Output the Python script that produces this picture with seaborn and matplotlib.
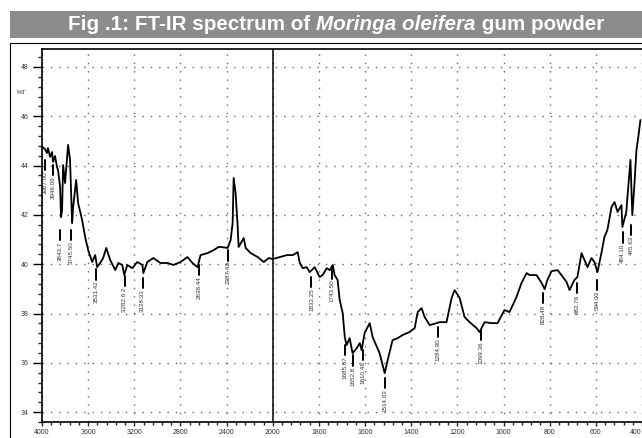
import numpy as np
import pandas as pd
import seaborn as sns
import matplotlib
matplotlib.use("Agg")
from matplotlib import pyplot as plt
from matplotlib import font_manager
from matplotlib.patches import Rectangle

# spectrum (wavenumber in 1/cm, %T)
wavenumber = [4000, 3974, 3957, 3948, 3930, 3913, 3904, 3887, 3870, 3861, 3843, 3835, 3826, 3817,
              3800, 3774, 3757, 3739, 3730, 3704, 3687, 3652, 3626, 3600, 3565, 3539, 3522, 3496,
              3470, 3443, 3409, 3365, 3339, 3304, 3287, 3261, 3217, 3174, 3130, 3122, 3087, 3035,
              2974, 2913, 2861, 2800, 2739, 2696, 2652, 2626, 2565, 2513, 2470, 2452, 2391, 2365,
              2348, 2339, 2322, 2304, 2296, 2261, 2252, 2235, 2191, 2130, 2078, 2035, 2000,
              1970, 1939, 1913, 1892, 1883, 1870, 1853, 1840, 1818, 1797, 1784, 1766, 1753, 1740,
              1732, 1719, 1710, 1697, 1688, 1680, 1667, 1654, 1636, 1623, 1615, 1602, 1580, 1567,
              1537, 1515, 1502, 1481, 1459, 1437, 1407, 1385, 1372, 1355, 1342, 1320, 1290, 1277,
              1247, 1225, 1212, 1190, 1169, 1147, 1117, 1104, 1082, 1052, 1026, 996, 974, 944,
              922, 900, 887, 857, 835, 822, 810, 792, 766, 749, 727, 714, 693, 680, 662, 649,
              636, 619, 606, 593, 576, 563, 550, 532, 519, 506, 489, 485, 468, 463, 450, 442,
              433, 424, 416, 407]
transmittance = [44.76, 44.67, 44.51, 44.71, 44.35, 44.55, 44.15, 44.39, 43.94, 43.82, 43.13, 41.91,
                 42.20, 44.02, 43.29, 44.84, 44.23, 41.67, 42.32, 43.42, 42.48, 41.79, 41.10, 40.57,
                 40.09, 40.37, 39.88, 40.05, 40.25, 40.66, 40.17, 39.76, 40.05, 39.97, 39.56, 39.97,
                 39.84, 40.09, 39.97, 39.64, 40.09, 40.25, 40.05, 40.05, 39.97, 40.09, 40.29, 40.05,
                 39.88, 40.37, 40.45, 40.57, 40.70, 40.70, 40.66, 40.98, 41.67, 43.50, 42.89, 41.51,
                 40.70, 40.98, 41.06, 40.66, 40.45, 40.29, 40.09, 40.25, 40.21,
                 40.29, 40.37, 40.37, 40.49, 40.05, 39.84, 39.88, 39.68, 39.88, 39.48, 39.56, 39.84,
                 39.76, 39.97, 39.56, 39.36, 38.55, 38.02, 37.04, 36.72, 37.00, 36.39, 36.60, 36.80,
                 36.52, 37.21, 37.61, 37.04, 36.39, 35.58, 36.11, 36.92, 37.00, 37.13, 37.25, 37.41,
                 38.06, 38.22, 37.86, 37.53, 37.61, 37.65, 37.65, 38.63, 38.95, 38.63, 37.86, 37.65,
                 37.41, 37.25, 37.65, 37.61, 37.61, 38.14, 38.06, 38.67, 39.24, 39.64, 39.56, 39.56,
                 39.24, 38.99, 39.36, 39.72, 39.76, 39.56, 39.28, 38.95, 39.36, 39.48, 40.45, 40.17,
                 39.88, 40.25, 40.09, 39.68, 40.45, 41.10, 41.39, 42.32, 42.52, 42.12, 42.40, 41.51,
                 42.12, 42.73, 44.23, 41.99, 43.21, 44.63, 45.16, 45.85]

# peak annotations: where the stub sits, printed label, top of the stub (%T)
peak_pos = [3974, 3904, 3843.7, 3745.5, 3531.42, 3282.62, 3128.33, 2638.44, 2387.42, 1832.25,
            1743.5, 1685.67, 1652.8, 1610.46, 1514.03, 1284.9, 1099.36, 828.48, 682.76, 594.03,
            484.1, 445.63]
peak_text = ["3987.00", "3946.09", "3843.7", "3745.50", "3531.42", "3282.6 2", "3128.33",
             "2638.44", "2387.42", "1832.25", "1743.50", "1685.67", "1652.8", "1610.46",
             "1514.03", "1284.90", "1099.36", "828.48", "682.76", "594.03", "484.10", "445.63"]
peak_top = [44.23, 44.02, 41.39, 41.39, 39.80, 39.52, 39.44, 39.97, 40.57, 39.48, 39.84, 36.72,
            36.31, 36.52, 35.38, 37.45, 37.33, 38.83, 39.24, 39.36, 41.30, 41.60]

x_major = [4000, 3600, 3200, 2800, 2400, 2000, 1800, 1600, 1400, 1200, 1000, 800, 600, 400]
y_major = [34, 36, 38, 40, 42, 44, 46, 48]

df = pd.DataFrame({"wavenumber": wavenumber, "T": transmittance})

sns.set_style("white")
plt.rcParams["font.family"] = ["Liberation Sans", "DejaVu Sans"]

W, H = 642, 438
fig = plt.figure(figsize=(W / 100, H / 100), dpi=100)
ax = fig.add_axes([42 / W, 1 - 422 / H, 600 / W, (422 - 49) / H])


# spectrometer style axis: 4000-2000 compressed by two
def fwd(x):
    x = np.asarray(x, dtype=float)
    return np.where(x > 2000, 2000 + (x - 2000) / 2, x)


def inv(u):
    u = np.asarray(u, dtype=float)
    return np.where(u > 2000, 2000 + (u - 2000) * 2, u)


ax.set_xscale("function", functions=(fwd, inv))

sns.lineplot(data=df, x="wavenumber", y="T", sort=False, color="black", lw=1.3, ax=ax)
ax.axvline(2000, color="black", lw=1.1, zorder=3)

ax.set_xlim(4000, 400)
ax.set_ylim(33.6, 48.73)
ax.set_xticks(x_major)
ax.set_xticklabels([str(v) for v in x_major])
ax.get_xticklabels()[-1].set_horizontalalignment("right")
minor_x = [v for v in list(range(2000, 4000, 80)) + list(range(400, 2000, 40)) if v not in x_major]
ax.set_xticks(minor_x, minor=True)
ax.set_yticks(y_major)
ax.set_yticks([v for v in np.arange(33.6, 48.8, 0.4) if min(abs(v - m) for m in y_major) > 0.1],
              minor=True)
ax.set_xlabel("")
ax.set_ylabel("")

ax.grid(True, which="major", ls=(0, (1, 5)), color="#666666", lw=1.0)
ax.tick_params(axis="y", which="major", direction="out", length=6.5, width=1, labelsize=5,
               colors="black", labelcolor="#333333", pad=3, left=True)
ax.tick_params(axis="y", which="minor", direction="out", length=3, width=1, left=True)
ax.tick_params(axis="x", which="major", direction="out", length=3, width=1, labelsize=5,
               labelcolor="#333333", pad=2, bottom=True)
ax.tick_params(axis="x", which="minor", direction="out", length=2, width=1, bottom=True)
for side in ["left", "bottom", "top"]:
    ax.spines[side].set_visible(True)
    ax.spines[side].set_linewidth(1.2)
    ax.spines[side].set_color("black")
ax.spines["right"].set_visible(False)

for p, txt, top in zip(peak_pos, peak_text, peak_top):
    ax.plot([p, p], [top, top - 0.42], color="black", lw=1.4)
    ax.text(p, top - 0.46, txt, rotation=90, ha="center", va="top", fontsize=4.5,
            color="#333333")

fig.text(22 / W, 1 - 92 / H, "%T", fontsize=4.5, ha="center", va="center", color="#333333")

# outer frame and title banner
fig.add_artist(Rectangle((10 / W, -0.1), 1.0, 1.1 - 43 / H, transform=fig.transFigure,
                         fill=False, ec="black", lw=0.8))
fig.add_artist(Rectangle((10 / W, 1 - 38 / H), 1.0, 27 / H, transform=fig.transFigure,
                         fc="#8c8c8c", ec="none"))

names = {f.name for f in font_manager.fontManager.ttflist}
title_font = ["Liberation Sans Narrow"] if "Liberation Sans Narrow" in names else ["Liberation Sans"]
parts = [("Fig .1: FT-IR spectrum of ", "normal"), ("Moringa oleifera", "italic"),
         (" gum powder", "normal")]
renderer = fig.canvas.get_renderer()
size = 13.5
texts = [fig.text(0, 1 - 24.5 / H, s, fontsize=size, fontweight="bold", fontstyle=st,
                  family=title_font, color="white", va="center", ha="left")
         for s, st in parts]
widths = [t.get_window_extent(renderer).width for t in texts]
# fit the title to the width it takes in the reference
size = size * 536 / sum(widths)
for t in texts:
    t.set_fontsize(size)
widths = [t.get_window_extent(renderer).width for t in texts]
x0 = 336 - sum(widths) / 2
for t, w in zip(texts, widths):
    t.set_x(x0 / W)
    x0 += w

fig.savefig("out.png", dpi=100)
